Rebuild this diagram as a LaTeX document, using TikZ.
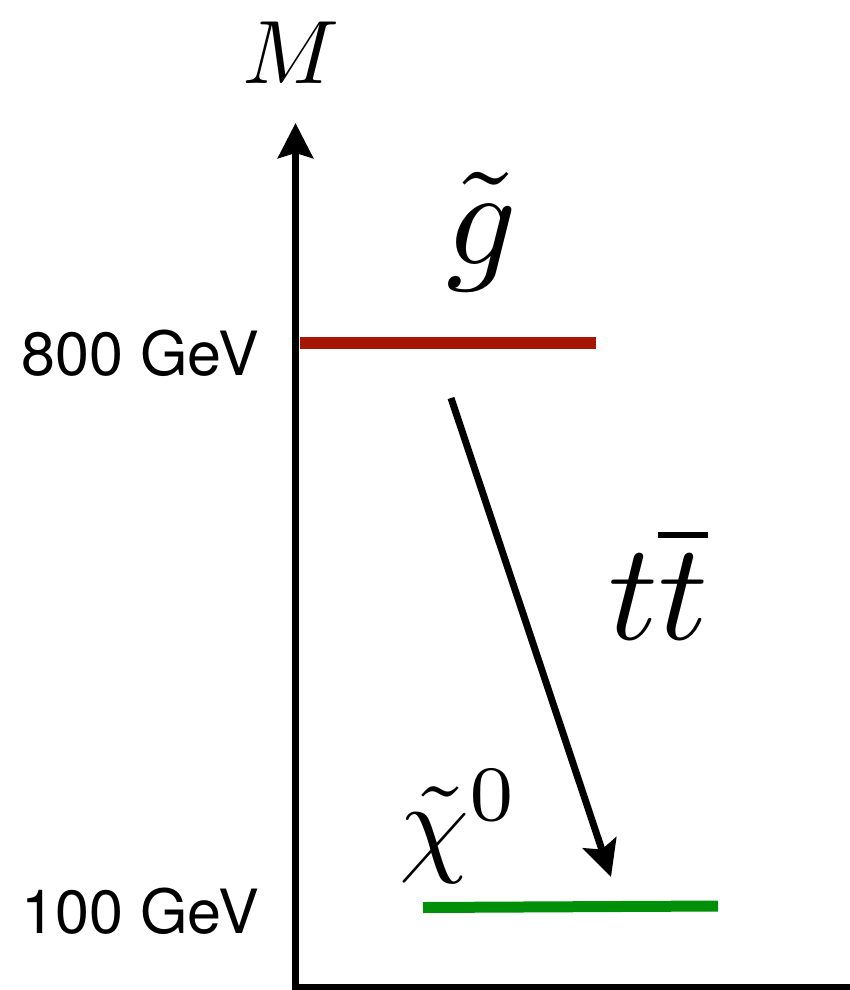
\documentclass[tikz,border=0pt]{standalone}
\usepackage[no-math]{fontspec}
\setsansfont{TeX Gyre Heros}
\usepackage{tikz}
\usetikzlibrary{arrows.meta, positioning}

\definecolor{gluinored}{RGB}{165,22,5}
\definecolor{neutgreen}{RGB}{0,143,8}

\begin{document}
\begin{tikzpicture}[x=1pt, y=-1pt, inner sep=0pt]
    % Define styles
    \tikzstyle{axis} = [line width=7pt, line join=miter, -{Stealth[length=35pt,width=35pt,inset=5pt]}]
    \tikzstyle{level} = [line width=12pt]
    \tikzstyle{decay} = [line width=7pt, -{Stealth[length=36pt,width=35pt,inset=7pt]}]
    \tikzstyle{mass} = [font=\fontsize{61}{70}\selectfont\sffamily, anchor=base east]
    \tikzstyle{particle} = [anchor=base]

    \useasboundingbox (0,0) rectangle (850,990);

    % Axes
    \coordinate (right) at (850,987);
    \coordinate (origin) at (295.5,987);
    \coordinate (top) at (295.5,123);
    \draw [axis] (right) -- (origin) -- (top);
    \node (mlabel) [particle, scale=9] at (291,83) {$M$};

    % Mass levels
    \coordinate (gluino-l) at (300,343);
    \coordinate (gluino-r) at (596,343);
    \coordinate (neut-l) at (423,907.5);
    \coordinate (neut-r) at (718,906);
    \draw [level, gluinored] (gluino-l) -- (gluino-r);
    \draw [level, line width=11pt, neutgreen] (neut-l) -- (neut-r);
    \node (m800) [mass] at (259,375) {800 GeV};
    \node (m100) [mass] at (259,933) {100 GeV};

    % Particles
    \node (gluino) [particle, scale=13.8] at (482,264) {$\tilde{g}$};
    \node (neutralino) [anchor=base west, scale=11.2] at (397,861) {$\tilde{\chi}^0$};

    % Decay
    \coordinate (decay-start) at (451,398);
    \coordinate (decay-end) at (611,877);
    \draw [decay] (decay-start) -- (decay-end);
    \node (ttbar) [particle, scale=13.8] at (658,639) {$t\overline{t}$};
\end{tikzpicture}
\end{document}
